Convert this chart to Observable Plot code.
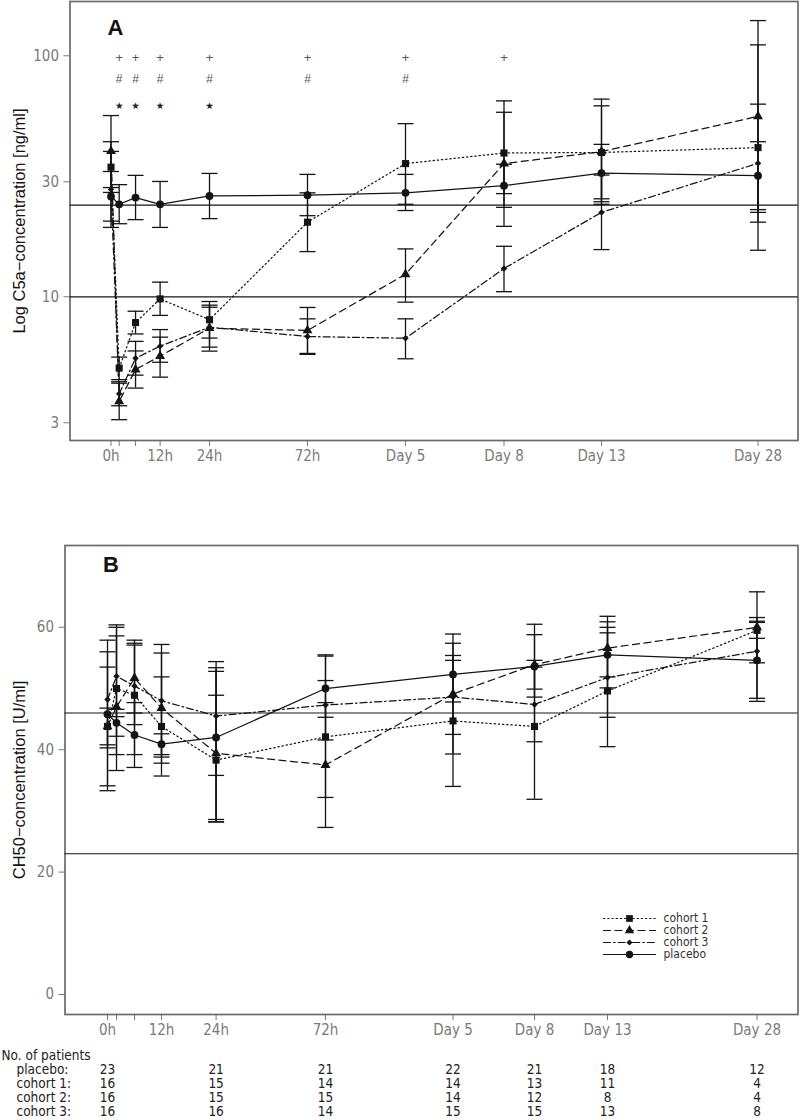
<!DOCTYPE html>
<html>
<head>
<meta charset="utf-8">
<script src="https://cdn.jsdelivr.net/npm/d3@7"></script>
<script src="https://cdn.jsdelivr.net/npm/@observablehq/plot@0.6"></script>
<style>
  body { margin: 0; background: #fff; }
  #wrap { position: relative; width: 800px; height: 1120px; overflow: hidden; background: #fff; }
  #wrap svg { display: block; }
  #legend { position: absolute; left: 600px; top: 910px; }
</style>
</head>
<body>
<div id="wrap"><div id="legend"></div></div>
<script>
// ---------- data ----------
const times = [0, 2, 6, 12, 24, 72, 120, 192, 312, 672];
const tickText = ["0h", "", "", "12h", "24h", "72h", "Day 5", "Day 8", "Day 13", "Day 28"];
const groups = ["cohort 1", "cohort 2", "cohort 3", "placebo"];

// Panel A: C5a (ng/ml), mean with lower / upper error bar ends
const c5aCohort1   = [34.5, 5.06, 7.82, 9.8, 8.03, 20.4, 35.7, 39.5, 39.7, 41.6];
const c5aCohort1Lo = [27.1, 4.53, 7.01, 8.37, 6.74, 15.4, 24.2, 26.8, 25.5, 15.6];
const c5aCohort1Hi = [44.0, 5.62, 8.71, 11.5, 9.56, 27.0, 52.3, 58.3, 62.0, 111];
const c5aCohort2   = [40.2, 3.68, 4.99, 5.67, 7.41, 7.25, 12.4, 35.7, 40.0, 56.1];
const c5aCohort2Lo = [28.4, 3.09, 4.18, 4.64, 5.95, 5.82, 9.5, 19.6, 24.2, 22.4];
const c5aCohort2Hi = [56.5, 4.38, 5.96, 6.8, 9.23, 9.03, 15.8, 65.0, 66.1, 140];
const c5aCohort3   = [27.9, 3.96, 5.56, 6.24, 7.48, 6.84, 6.73, 13.1, 22.4, 35.8];
const c5aCohort3Lo = [19.4, 3.53, 4.73, 5.35, 6.18, 5.77, 5.53, 10.5, 15.7, 20.4];
const c5aCohort3Hi = [40.1, 4.44, 6.53, 7.31, 9.05, 8.1, 8.1, 16.2, 32.0, 63.0];
const c5aPlacebo   = [26.1, 24.2, 25.8, 24.2, 26.2, 26.4, 27.0, 28.9, 32.6, 31.8];
const c5aPlaceboLo = [20.6, 20.1, 20.9, 19.4, 21.1, 21.7, 22.8, 23.5, 24.8, 23.0];
const c5aPlaceboHi = [33.1, 29.2, 31.9, 30.1, 32.5, 32.2, 32.2, 35.5, 42.9, 44.0];
const c5aRefLines = [24, 10];
const plusTimes = [2, 6, 12, 24, 72, 120, 192];
const hashTimes = [2, 6, 12, 24, 72, 120];
const starTimes = [2, 6, 12, 24];

// Panel B: CH50 (U/ml)
const ch50Cohort1   = [43.8, 50.0, 48.9, 43.8, 38.3, 42.1, 44.7, 43.8, 49.6, 59.5];
const ch50Cohort1Lo = [34.1, 39.2, 39.2, 35.7, 28.2, 32.2, 34.0, 31.9, 40.5, 58.2];
const ch50Cohort1Hi = [53.5, 60.4, 57.9, 51.9, 48.9, 51.3, 55.4, 54.6, 59.1, 60.8];
const ch50Cohort2   = [43.8, 47.0, 51.7, 46.8, 39.4, 37.5, 49.1, 53.9, 56.6, 60.0];
const ch50Cohort2Lo = [40.8, 36.6, 46.0, 37.8, 28.2, 27.3, 39.3, 48.6, 51.9, 54.2];
const ch50Cohort2Hi = [46.8, 60.0, 57.4, 55.8, 52.8, 47.7, 58.9, 60.5, 61.8, 65.8];
const ch50Cohort3   = [48.2, 52.0, 50.4, 48.0, 45.5, 47.3, 48.6, 47.4, 51.8, 56.1];
const ch50Cohort3Lo = [40.3, 45.4, 44.1, 38.8, 35.8, 41.6, 42.5, 41.3, 45.3, 48.4];
const ch50Cohort3Hi = [56.0, 58.6, 57.1, 57.2, 53.4, 55.3, 54.6, 53.5, 60.0, 61.6];
const ch50Placebo   = [45.8, 44.4, 42.4, 40.9, 42.0, 50.0, 52.3, 53.6, 55.5, 54.6];
const ch50PlaceboLo = [33.3, 42.2, 37.1, 39.2, 28.6, 45.3, 47.8, 49.9, 50.1, 47.9];
const ch50PlaceboHi = [57.9, 46.6, 47.7, 42.6, 54.4, 55.5, 57.4, 58.8, 60.9, 61.0];
const ch50RefLines = [46, 23];

// Number of patients table
const patientTimes = [0, 24, 72, 120, 192, 312, 672];
const tableRows = ["placebo", "cohort 1", "cohort 2", "cohort 3"];
const nPlacebo = [23, 21, 21, 22, 21, 18, 12];
const nCohort1 = [16, 15, 14, 14, 13, 11, 4];
const nCohort2 = [16, 15, 15, 14, 12, 8, 4];
const nCohort3 = [16, 16, 14, 15, 15, 13, 8];

// ---------- styling ----------
const narrow = "'Liberation Sans Narrow','DejaVu Sans Condensed','Arial Narrow',sans-serif";
const regular = "'Liberation Sans',Arial,sans-serif";
const ink = "#141414";
const look = {
  "cohort 1": {dash: "1.3,2.9", symbol: "square", r: 4},
  "cohort 2": {dash: "7,4.5", symbol: "triangle", r: 3.7},
  "cohort 3": {dash: "7,3,1.6,3", symbol: "diamond2", r: 2.9},
  "placebo":  {dash: undefined, symbol: "circle", r: 3.9}
};
const xDomain = [0, 12, 24, 72, 120, 192, 312, 672];
const xRangeA = [110.5, 159.6, 209, 307, 405, 503.5, 601, 757.5];
const xRangeB = [107, 161, 215.6, 325, 452.5, 534, 607, 756.5];

const cap = {draw(ctx, size) { const w = Math.sqrt(size / Math.PI); ctx.moveTo(-w, 0); ctx.lineTo(w, 0); }};

function series(name, means, los, his) {
  return times.map((t, i) => ({group: name, t, mean: means[i], lo: los[i], hi: his[i]}));
}

function dataMarks(rows) {
  const marks = [
    Plot.ruleX(rows, {x: "t", y1: "lo", y2: "hi", stroke: ink, strokeWidth: 1.3}),
    Plot.dot(rows, {x: "t", y: "lo", symbol: cap, r: 8, stroke: ink, fill: "none", strokeWidth: 1.3}),
    Plot.dot(rows, {x: "t", y: "hi", symbol: cap, r: 8, stroke: ink, fill: "none", strokeWidth: 1.3})
  ];
  for (const g of groups) {
    const d = rows.filter(r => r.group === g);
    const o = {x: "t", y: "mean", stroke: ink, strokeWidth: 1.25};
    if (look[g].dash) o.strokeDasharray = look[g].dash;
    marks.push(Plot.line(d, o));
  }
  for (const g of groups) {
    const d = rows.filter(r => r.group === g);
    marks.push(Plot.dot(d, {x: "t", y: "mean", symbol: look[g].symbol, r: look[g].r, fill: ink, stroke: "none"}));
  }
  return marks;
}

const xFormat = d => tickText[times.indexOf(d)];
const svgStyle = {fontFamily: narrow, fontSize: "15px", color: "#7a7a7a", background: "transparent", overflow: "visible"};

// ---------- Panel A ----------
const rowsA = [
  ...series("cohort 1", c5aCohort1, c5aCohort1Lo, c5aCohort1Hi),
  ...series("cohort 2", c5aCohort2, c5aCohort2Lo, c5aCohort2Hi),
  ...series("cohort 3", c5aCohort3, c5aCohort3Lo, c5aCohort3Hi),
  ...series("placebo", c5aPlacebo, c5aPlaceboLo, c5aPlaceboHi)
];
const plotA = Plot.plot({
  width: 800, height: 470,
  marginLeft: 69.5, marginRight: 2.5, marginTop: 1, marginBottom: 30,
  style: svgStyle,
  x: {type: "linear", domain: xDomain, range: xRangeA, ticks: times, tickFormat: xFormat, tickSize: 6, tickPadding: 4, label: null},
  y: {type: "log", domain: [2.533, 168], ticks: [3, 10, 30, 100], tickFormat: d => String(d), tickSize: 6, tickPadding: 5, label: null},
  marks: [
    Plot.frame({stroke: "#6a6a6a", strokeWidth: 1.7}),
    Plot.ruleY(c5aRefLines, {stroke: ink, strokeWidth: 1.2}),
    ...dataMarks(rowsA),
    Plot.text(plusTimes, {x: d => d, frameAnchor: "top", dy: 51, text: () => "+", fill: "#555", fontSize: 13, fontFamily: regular}),
    Plot.text(hashTimes, {x: d => d, frameAnchor: "top", dy: 73, text: () => "#", fill: "#555", fontSize: 12, fontFamily: regular}),
    Plot.text(starTimes, {x: d => d, frameAnchor: "top", dy: 101, text: () => "\u2605", fill: "#222", fontSize: 9.5, fontFamily: "'DejaVu Sans',sans-serif"}),
    Plot.text(["A"], {frameAnchor: "top-left", dx: 37.5, dy: 18, text: d => d, fontSize: 22, fontWeight: "bold", fill: ink, fontFamily: regular}),
    Plot.text(["Log C5a\u2212concentration [ng/ml]"], {frameAnchor: "left", textAnchor: "middle", rotate: -90, dx: -50.5, text: d => d, fontSize: 16.5, fill: ink, fontFamily: regular})
  ]
});

// ---------- Panel B ----------
const rowsB = [
  ...series("cohort 1", ch50Cohort1, ch50Cohort1Lo, ch50Cohort1Hi),
  ...series("cohort 2", ch50Cohort2, ch50Cohort2Lo, ch50Cohort2Hi),
  ...series("cohort 3", ch50Cohort3, ch50Cohort3Lo, ch50Cohort3Hi),
  ...series("placebo", ch50Placebo, ch50PlaceboLo, ch50PlaceboHi)
];
const plotB = Plot.plot({
  width: 800, height: 574,
  marginLeft: 64.5, marginRight: 2.5, marginTop: 75, marginBottom: 30,
  style: svgStyle,
  x: {type: "linear", domain: xDomain, range: xRangeB, ticks: times, tickFormat: xFormat, tickSize: 6, tickPadding: 4, label: null},
  y: {domain: [-3.27, 73.37], ticks: [0, 20, 40, 60], tickFormat: d => String(d), tickSize: 6, tickPadding: 5, label: null},
  marks: [
    Plot.frame({stroke: "#6a6a6a", strokeWidth: 1.7}),
    Plot.ruleY(ch50RefLines, {stroke: ink, strokeWidth: 1.2}),
    ...dataMarks(rowsB),
    Plot.text(["B"], {frameAnchor: "top-left", dx: 38, dy: 11, text: d => d, fontSize: 22, fontWeight: "bold", fill: ink, fontFamily: regular}),
    Plot.text(["CH50\u2212concentration [U/ml]"], {frameAnchor: "left", textAnchor: "middle", rotate: -90, dx: -45.5, text: d => d, fontSize: 16.5, fill: ink, fontFamily: regular})
  ]
});

// ---------- patients table ----------
const tableData = [];
const counts = {"placebo": nPlacebo, "cohort 1": nCohort1, "cohort 2": nCohort2, "cohort 3": nCohort3};
for (const r of tableRows) patientTimes.forEach((t, i) => tableData.push({row: r, t, n: counts[r][i]}));
const plotT = Plot.plot({
  width: 800, height: 76,
  marginLeft: 0, marginRight: 0, marginTop: 0, marginBottom: 0,
  style: {...svgStyle, color: "#222"},
  x: {type: "linear", domain: xDomain, range: xRangeB, axis: null},
  y: {type: "point", domain: ["No. of patients", ...tableRows], range: [10, 68], padding: 0, axis: null},
  marks: [
    Plot.text(["No. of patients"], {frameAnchor: "left", textAnchor: "start", y: d => d, dx: 1, text: d => d, fill: "#222", fontSize: 13.5}),
    Plot.text(tableRows, {frameAnchor: "left", textAnchor: "start", y: d => d, dx: 16, text: d => d + ":", fill: "#222", fontSize: 13.5}),
    Plot.text(tableData, {x: "t", y: "row", text: d => String(d.n), fill: "#222", fontSize: 13.5})
  ]
});

// ---------- legend ----------
const legendLines = groups.flatMap(g => [{g, x: 0}, {g, x: 1}]);
const legendMarks = [];
for (const g of groups) {
  const o = {x: "x", y: "g", stroke: ink, strokeWidth: 1.2};
  if (look[g].dash) o.strokeDasharray = look[g].dash;
  legendMarks.push(Plot.line(legendLines.filter(d => d.g === g), o));
  legendMarks.push(Plot.dot([g], {x: () => 0.5, y: d => d, symbol: look[g].symbol, r: look[g].r * 0.95, fill: ink, stroke: "none"}));
}
legendMarks.push(Plot.text(groups, {x: () => 1, y: d => d, dx: 8, text: d => d, textAnchor: "start", fill: "#333", fontSize: 12}));
const plotL = Plot.plot({
  width: 130, height: 50,
  marginLeft: 0, marginRight: 0, marginTop: 0, marginBottom: 0,
  style: {...svgStyle, color: "#333"},
  x: {domain: [0, 1], range: [3, 55], axis: null},
  y: {type: "point", domain: groups, range: [7, 44], padding: 0, axis: null},
  marks: legendMarks
});

const wrap = document.getElementById("wrap");
wrap.insertBefore(plotT, wrap.firstChild);
wrap.insertBefore(plotB, plotT);
wrap.insertBefore(plotA, plotB);
document.getElementById("legend").appendChild(plotL);
</script>
</body>
</html>
